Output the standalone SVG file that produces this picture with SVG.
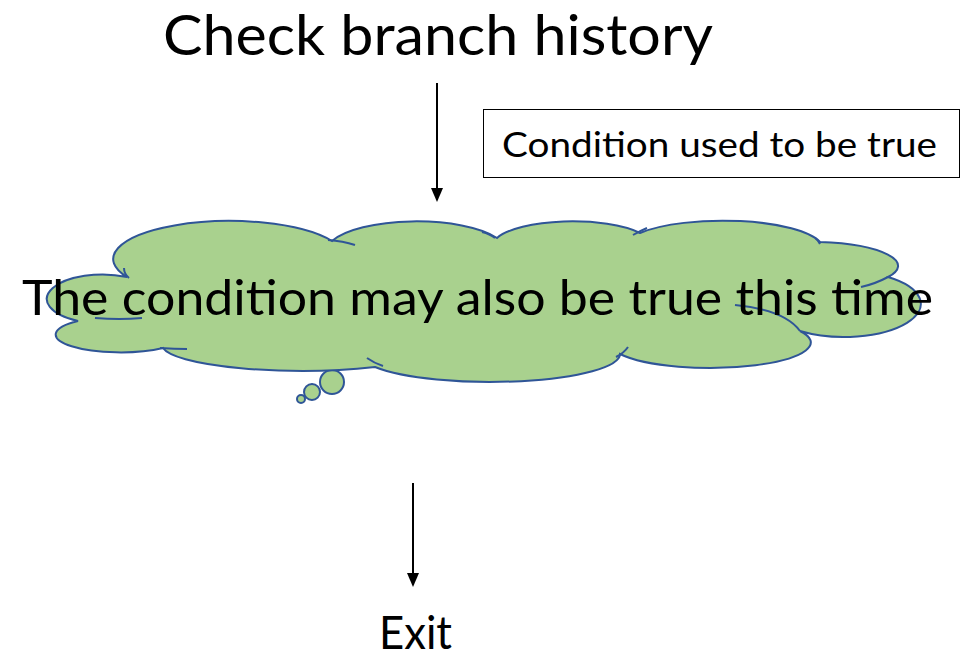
<svg xmlns="http://www.w3.org/2000/svg" width="966" height="654" viewBox="0 0 966 654">
<defs>
<style>
.t{font-family:Lato,"Noto Sans","Liberation Sans",sans-serif;fill:#000}
.cl{fill:#A9D18E;stroke:#2F5597;stroke-width:2}
.tail{fill:none;stroke:#2F5597;stroke-width:2}
.ln{stroke:#000;stroke-width:2;fill:none}
</style>
<marker id="ah" viewBox="0 0 14 12" refX="1" refY="6" markerWidth="14" markerHeight="12" markerUnits="userSpaceOnUse" orient="auto">
<path d="M0,0 L14,6 L0,12 Z" fill="#000"/>
</marker>
</defs>
<rect width="966" height="654" fill="#fff"/>
<g id="title"><text class="t" x="163" y="55" font-size="57" textLength="550" lengthAdjust="spacingAndGlyphs">Check branch history</text></g>
<g id="note"><rect x="483.5" y="109.5" width="476" height="68" fill="#fff" stroke="#000" stroke-width="1"/>
<text class="t" x="502" y="157" font-size="35" textLength="435" lengthAdjust="spacingAndGlyphs">Condition used to be true</text></g>
<g id="cloud">
<circle class="cl" cx="332" cy="382" r="12"/>
<circle class="cl" cx="312" cy="392" r="8"/>
<circle class="cl" cx="301" cy="399" r="4"/>
<path class="cl" d="M127,277 A110,36 0 0 1 332,241 A90,30 0 0 1 497,238 A80,25 0 0 1 640,233 A100,28 0 0 1 820,242 A88,24 0 0 1 888,277 A70,30 0 0 1 800,331 A95,24 0 0 1 620,354 A130,28 0 0 1 375,367 A140,26 0 0 1 163,348 A58,16 0 0 1 78,321 A50,22 0 0 1 127,277 Z"/>
<path class="tail" d="M95,318 Q120,320 142,318"/>
<path class="tail" d="M124,268 Q124,274 129,278"/>
<path class="tail" d="M160,348 Q175,349 187,349"/>
<path class="tail" d="M328,240 Q343,241 355,245"/>
<path class="tail" d="M482,232 Q490,234 495,238"/>
<path class="tail" d="M647,228 Q640,231 633,235"/>
<path class="tail" d="M815,238 Q818,240 820,244"/>
<path class="tail" d="M888,277 Q875,284 861,287"/>
<path class="tail" d="M735,305 Q785,310 800,331"/>
<path class="tail" d="M616,357 Q624,353 628,347"/>
<path class="tail" d="M383,366 Q374,363 367,358"/>
<text class="t" x="22" y="315" font-size="49" textLength="911" lengthAdjust="spacingAndGlyphs">The condition may also be true this time</text>
</g>
<g id="exit"><text class="t" x="379" y="649" font-size="46" textLength="73" lengthAdjust="spacingAndGlyphs">Exit</text></g>
<g id="connectors">
<line class="ln" x1="437" y1="83" x2="437" y2="189" marker-end="url(#ah)"/>
<line class="ln" x1="413" y1="483" x2="413" y2="574" marker-end="url(#ah)"/>
</g>
</svg>
